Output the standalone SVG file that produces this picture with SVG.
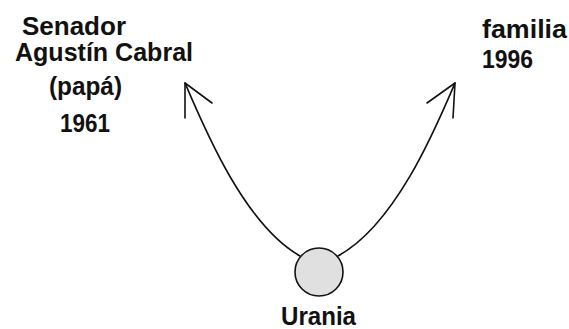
<svg xmlns="http://www.w3.org/2000/svg" width="569" height="329" viewBox="0 0 569 329">
<style>
.lbl{font-family:"Liberation Sans",Arial,sans-serif;font-weight:bold;font-size:25px;fill:#111}
.ln{fill:none;stroke:#111;stroke-width:1.6;stroke-linecap:round;stroke-linejoin:round}
</style>
<rect width="569" height="329" fill="#fff"/>
<g id="connectors">
<path class="ln" d="M300,256 C245,225 205,130 185,83"/>
<polyline class="ln" points="185,118 185,83 212,103"/>
<path class="ln" d="M338,256 C395,225 435,130 455,83"/>
<polyline class="ln" points="453,118 455,83 427,103"/>
</g>
<g id="node-senador">
<text class="lbl" x="22" y="35" textLength="104" lengthAdjust="spacingAndGlyphs">Senador</text>
<text class="lbl" x="15" y="61" textLength="178" lengthAdjust="spacingAndGlyphs">Agustín Cabral</text>
<text class="lbl" x="49" y="95" textLength="73" lengthAdjust="spacingAndGlyphs">(papá)</text>
<text class="lbl" x="60" y="132" textLength="50" lengthAdjust="spacingAndGlyphs">1961</text>
</g>
<g id="node-familia">
<text class="lbl" x="482" y="38" textLength="85" lengthAdjust="spacingAndGlyphs">familia</text>
<text class="lbl" x="482" y="68" textLength="51" lengthAdjust="spacingAndGlyphs">1996</text>
</g>
<g id="node-urania">
<circle cx="319" cy="272" r="24" fill="#e0e0e0" stroke="#111" stroke-width="1.6"/>
<text class="lbl" x="281" y="325" textLength="75" lengthAdjust="spacingAndGlyphs">Urania</text>
</g>
</svg>
